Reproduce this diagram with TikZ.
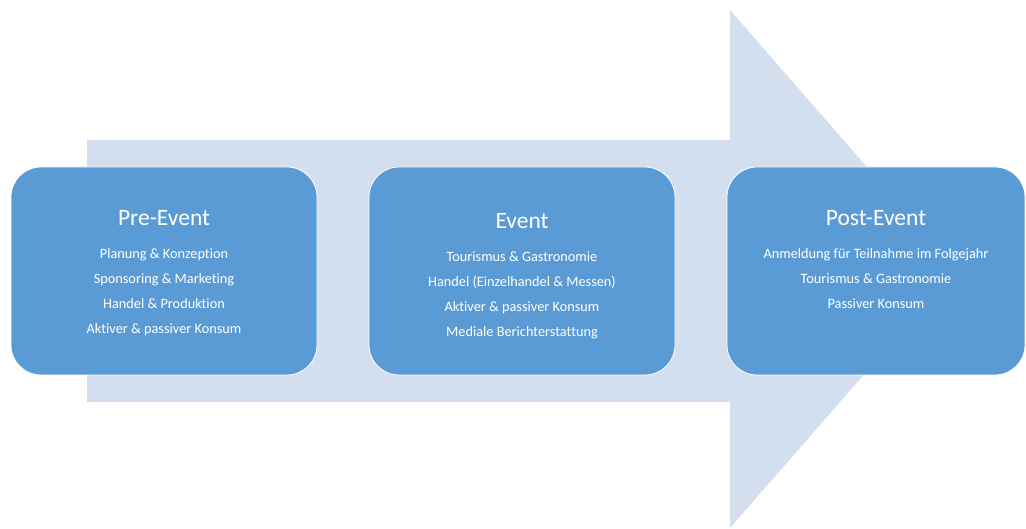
\documentclass[tikz,border=0pt]{standalone}
\usepackage{fontspec}
\setmainfont{Carlito}[Ligatures={NoCommon}]
\usetikzlibrary{positioning}
\definecolor{arrowblue}{RGB}{211,222,239}
\definecolor{boxblue}{RGB}{91,155,213}
\tikzset{phase_box/.style={rectangle, rounded corners=30pt, fill=boxblue, draw=white, line width=0.8pt, minimum width=306pt, minimum height=208pt, inner sep=0pt}}
\tikzset{phase_title/.style={inner sep=0pt, text=white, font=\fontsize{23.5}{28}\selectfont}}
\tikzset{phase_item/.style={inner sep=0pt, text=white, font=\fontsize{14.3}{17}\selectfont}}

\begin{document}
\begin{tikzpicture}[x=1pt,y=-1pt]
    \useasboundingbox (0,0) rectangle (1026,529);
    \fill[arrowblue] (87,140) -- (730,140) -- (730,10) -- (956,269) -- (730,528) -- (730,402) -- (87,402) -- cycle;
    \node[phase_box] (pre) at (164,271) {};
    \node[phase_box] (event) at (522,271) {};
    \node[phase_box, minimum width=298pt] (post) at (876,271) {};
    \node[phase_title, below=58.5pt of pre.north, anchor=base] (pre_title) {Pre-Event};
    \node[phase_title, below=61.5pt of event.north, anchor=base] (event_title) {Event};
    \node[phase_title, below=58.5pt of post.north, anchor=base] (post_title) {Post-Event};
    \foreach \txt [count=\i from 0] in {Planung \& Konzeption, Sponsoring \& Marketing, Handel \& Produktion, Aktiver \& passiver Konsum}
      \node[phase_item, anchor=base] (pre_item\i) at ([yshift={-33.5pt-25pt*\i}]pre_title.base) {\txt};
    \foreach \txt [count=\i from 0] in {Tourismus \& Gastronomie, {Handel (Einzelhandel \& Messen)}, Aktiver \& passiver Konsum, Mediale Berichterstattung}
      \node[phase_item, anchor=base] (event_item\i) at ([yshift={-33.5pt-25pt*\i}]event_title.base) {\txt};
    \foreach \txt [count=\i from 0] in {Anmeldung für Teilnahme im Folgejahr, Tourismus \& Gastronomie, Passiver Konsum}
      \node[phase_item, anchor=base] (post_item\i) at ([yshift={-33.5pt-25pt*\i}]post_title.base) {\txt};
\end{tikzpicture}
\end{document}
